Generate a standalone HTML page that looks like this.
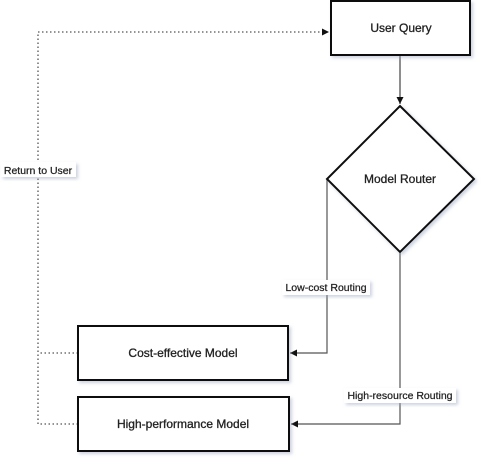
<!DOCTYPE html>
<html><head><meta charset="utf-8"><style>
html,body{margin:0;padding:0;background:#fff;width:486px;height:463px;overflow:hidden}
svg text{font-family:"Liberation Sans",sans-serif}
</style></head><body>
<svg width="486" height="463" viewBox="0 0 486 463" xmlns="http://www.w3.org/2000/svg">
<defs>
<marker id="a" markerWidth="8" markerHeight="8" refX="7" refY="4" orient="auto" markerUnits="userSpaceOnUse">
<path d="M0,0.5 L7,4 L0,7.5 Z" fill="#111"/></marker>
<filter id="s" x="-10%" y="-10%" width="130%" height="140%"><feDropShadow dx="2" dy="2" stdDeviation="1.5" flood-color="#9aa4c0" flood-opacity="0.5"/></filter>
</defs>
<g fill="none" stroke="#555" stroke-width="1.2">
<path d="M400,55 V104" marker-end="url(#a)" stroke="#444"/>
<path d="M327,179 V353 H290" marker-end="url(#a)"/>
<path d="M400,252 V424 H291" marker-end="url(#a)"/>
<path d="M78,424 H38 V32 H329" stroke-dasharray="1.5,2.5" stroke-width="1.3" marker-end="url(#a)"/>
<path d="M78,353 H38" stroke-dasharray="1.5,2.5" stroke-width="1.3"/>
</g>
<g fill="#fff" stroke="#111" stroke-width="2" filter="url(#s)">
<rect x="331" y="1" width="139" height="54"/>
<polygon points="400,106 474,179 400,252 327,179"/>
<rect x="78" y="326" width="210" height="54"/>
<rect x="78" y="397" width="211" height="54"/>
</g>
<g font-size="12" fill="#222" stroke="#222" stroke-width="0.3" text-anchor="middle">
<text x="401" y="32">User Query</text>
<text x="400" y="183">Model Router</text>
<text x="183" y="357">Cost-effective Model</text>
<text x="183" y="428">High-performance Model</text>
</g>
<g font-size="10.5" fill="#222" stroke="#222" stroke-width="0.25" text-anchor="middle">
<rect x="1" y="162" width="75" height="15" fill="#fff" stroke="none" filter="url(#s)"/>
<text x="38" y="174">Return to User</text>
<rect x="282" y="280" width="88" height="15" fill="#fff" stroke="none" filter="url(#s)"/>
<text x="326" y="291">Low-cost Routing</text>
<rect x="344" y="388" width="112" height="15" fill="#fff" stroke="none" filter="url(#s)"/>
<text x="400" y="399">High-resource Routing</text>
</g>
</svg>
</body></html>
